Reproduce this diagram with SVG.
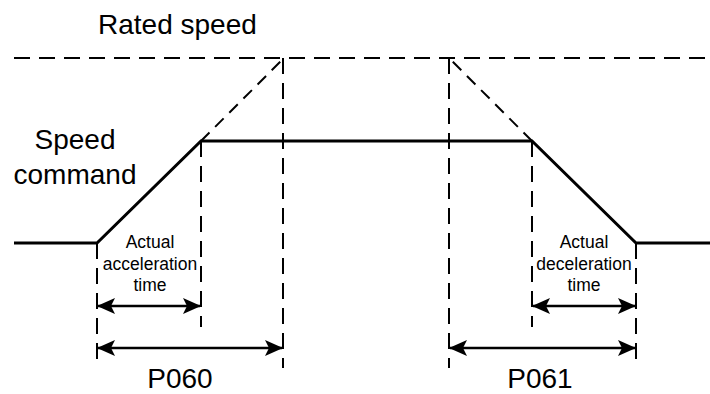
<svg xmlns="http://www.w3.org/2000/svg" width="710" height="394" viewBox="0 0 710 394">
<style>
  text { font-family: "Liberation Sans", Arial, sans-serif; fill: #000; }
  .big { font-size: 28px; }
  .small { font-size: 17.5px; text-anchor: middle; }
  .solid { fill: none; stroke: #000; stroke-width: 3; stroke-linejoin: miter; }
  .dash { fill: none; stroke: #000; stroke-width: 2; stroke-dasharray: 16 9; }
  .ddash { fill: none; stroke: #000; stroke-width: 2; stroke-dasharray: 12 8; }
  .dim { fill: none; stroke: #000; stroke-width: 2.5; marker-start: url(#ah); marker-end: url(#ah); }
</style>
<defs>
  <marker id="ah" markerUnits="userSpaceOnUse" markerWidth="20" markerHeight="18" refX="17" refY="9" orient="auto-start-reverse" viewBox="0 0 20 18">
    <path d="M0,1 L18,9 L0,17 L4,9 Z" fill="#000"/>
  </marker>
</defs>
<rect width="710" height="394" fill="#fff"/>
<g id="labels">
  <text class="big" x="98" y="34">Rated speed</text>
  <text class="big" x="75" y="149" text-anchor="middle">Speed</text>
  <text class="big" x="75" y="184" text-anchor="middle">command</text>
  <text class="small" x="150" y="248">Actual</text>
  <text class="small" x="150" y="270">acceleration</text>
  <text class="small" x="150" y="291">time</text>
  <text class="small" x="584" y="248">Actual</text>
  <text class="small" x="584" y="270">deceleration</text>
  <text class="small" x="584" y="291">time</text>
  <text class="big" x="180" y="388" text-anchor="middle">P060</text>
  <text class="big" x="540" y="388" text-anchor="middle">P061</text>
</g>
<g id="guides">
  <line class="dash" x1="14" y1="58" x2="710" y2="58"/>
  <line class="ddash" x1="201" y1="141" x2="283" y2="59"/>
  <line class="ddash" x1="532" y1="141" x2="450" y2="59"/>
  <line class="dash" x1="283" y1="58" x2="283" y2="368"/>
  <line class="dash" x1="449" y1="58" x2="449" y2="368"/>
  <line class="dash" x1="201" y1="141" x2="201" y2="327"/>
  <line class="dash" x1="532" y1="141" x2="532" y2="327"/>
  <line class="dash" x1="97" y1="243" x2="97" y2="360"/>
  <line class="dash" x1="636" y1="243" x2="636" y2="360"/>
</g>
<g id="speed-profile">
  <polyline class="solid" points="14,243 97,243 201,141 532,141 636,243 710,243"/>
</g>
<g id="connectors">
  <line class="dim" x1="98" y1="306" x2="200" y2="306"/>
  <line class="dim" x1="533" y1="306" x2="635" y2="306"/>
  <line class="dim" x1="98" y1="348" x2="282" y2="348"/>
  <line class="dim" x1="450" y1="348" x2="635" y2="348"/>
</g>
</svg>
